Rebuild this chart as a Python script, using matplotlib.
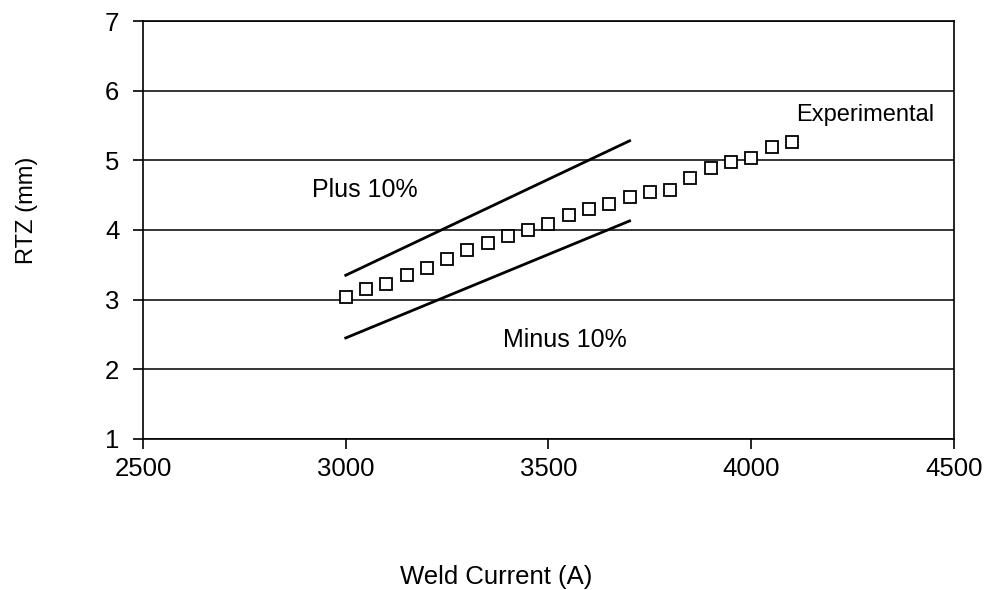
import matplotlib
matplotlib.use("Agg")
import matplotlib.pyplot as plt

# Experimental RTZ measurements versus weld current
current = [3000, 3050, 3100, 3150, 3200, 3250, 3300, 3350, 3400, 3450, 3500,
           3550, 3600, 3650, 3700, 3750, 3800, 3850, 3900, 3950, 4000, 4050, 4100]
rtz = [3.04, 3.15, 3.23, 3.35, 3.45, 3.59, 3.71, 3.82, 3.92, 4.00, 4.09,
       4.22, 4.30, 4.37, 4.47, 4.54, 4.58, 4.75, 4.89, 4.98, 5.04, 5.19, 5.26]

# +/-10% band
band_current = [3000, 3700]
plus_10 = [3.35, 5.28]
minus_10 = [2.45, 4.13]

x_ticks = [2500, 3000, 3500, 4000, 4500]
y_ticks = [1, 2, 3, 4, 5, 6, 7]

plt.rcParams['font.family'] = ['Liberation Sans', 'DejaVu Sans']

fig = plt.figure(figsize=(9.89, 5.90), dpi=100)
ax = fig.add_axes([0.1446, 0.256, 0.82, 0.7084])

for y in y_ticks:
    ax.axhline(y, color='black', lw=1.1, zorder=1)

ax.plot(band_current, plus_10, color='black', lw=2.0, zorder=2)
ax.plot(band_current, minus_10, color='black', lw=2.0, zorder=2)
ax.plot(current, rtz, linestyle='none', marker='s', markersize=8.5,
        markerfacecolor='white', markeredgecolor='black', markeredgewidth=1.3, zorder=3)

ax.text(3047, 4.57, 'Plus 10%', fontsize=18, ha='center', va='center')
ax.text(3541, 2.42, 'Minus 10%', fontsize=18, ha='center', va='center')
ax.text(4280, 5.65, 'Experimental', fontsize=17, ha='center', va='center')

ax.set_xlim(2500, 4500)
ax.set_ylim(1, 7)
ax.set_xticks(x_ticks)
ax.set_yticks(y_ticks)
ax.tick_params(axis='both', labelsize=18.5, direction='out', length=7, width=1.2, color='black')
ax.tick_params(axis='x', pad=6)
ax.tick_params(axis='y', pad=10)

for s in ax.spines.values():
    s.set_color('black')
    s.set_linewidth(1.2)

fig.text(0.5015, 0.022, 'Weld Current (A)', fontsize=18.5, ha='center', va='center')
fig.text(0.027, 0.644, 'RTZ (mm)', fontsize=17, ha='center', va='center', rotation=90)

fig.savefig('out.png', dpi=100, facecolor='white')
